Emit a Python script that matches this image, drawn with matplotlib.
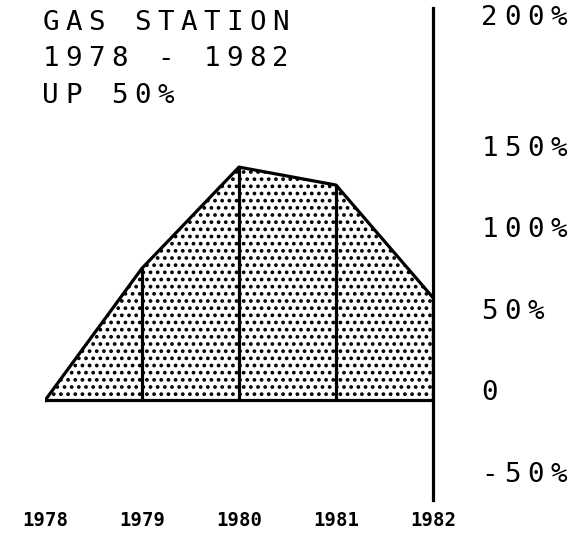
import matplotlib.pyplot as plt
import matplotlib.transforms as mtransforms

# data (percent change)
years = [1978, 1979, 1980, 1981, 1982]
change = [0, 81, 143, 132, 63]

title_lines = ["GAS STATION", "1978 - 1982", "UP 50%"]
ytick_labels = ["-50%", "0", "50%", "100%", "150%", "200%"]
# the 200% label sits at the top end of the axis in the original
ytick_pos = [-50, 0, 50, 100, 150, 230]

# a lower dpi makes the hatch dots denser (hatch cell is one inch)
DPI = 86
W, H = 573, 535


def pt(px):
    return px * 72 / DPI


plt.rcParams["hatch.linewidth"] = pt(2.3)

fig = plt.figure(figsize=(W / DPI, H / DPI), dpi=DPI)
ax = fig.add_axes([45 / W, 35 / H, 388 / W, 492 / H])


def spaced_text(x, y, s, transform, pitch, dx=0, **kw):
    # plotter style text: one character per fixed-width cell
    for i, ch in enumerate(s):
        off = mtransforms.ScaledTranslation((dx + i * pitch) / DPI, 0, fig.dpi_scale_trans)
        fig.text(x, y, ch, transform=transform + off, ha="center", va="baseline", **kw)


font = dict(family="DejaVu Sans Mono", fontsize=pt(27.5), color="black")
lw = pt(3.2)

# dotted area
ax.fill_between(years, 0, change, facecolor="white", edgecolor="black",
                hatch="..", linewidth=0)
ax.plot(years, change, color="black", lw=lw, solid_joinstyle="round")
ax.vlines(years, 0, change, color="black", lw=lw)
ax.plot([years[0], years[-1]], [0, 0], color="black", lw=lw)

ax.set_xlim(years[0], years[-1])
ax.set_ylim(-61, 240.5)

for side in ["left", "top", "bottom"]:
    ax.spines[side].set_visible(False)
ax.spines["right"].set_linewidth(lw)

ax.set_yticks([])
ax.set_xticks(years)
ax.set_xticklabels([str(y) for y in years], family="DejaVu Sans Mono",
                   fontsize=pt(19), fontweight="bold")
ax.tick_params(axis="x", length=0, pad=pt(11))

ytr = ax.get_yaxis_transform()
for lab, pos in zip(ytick_labels, ytick_pos):
    spaced_text(1, pos, lab, ytr, 23, dx=56.5, **font)

# title block, top left
for k, line in enumerate(title_lines):
    spaced_text(50.5 / W, 1 - (30 + k * 36.5) / H, line, fig.transFigure, 23, **font)

fig.savefig("out.png", dpi=DPI)
